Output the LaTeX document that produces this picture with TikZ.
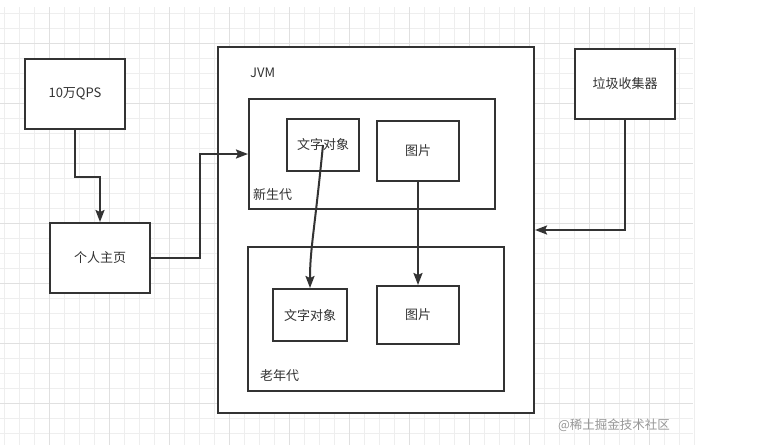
\documentclass[tikz,border=0pt]{standalone}
\usepackage{fontspec}
\setmainfont{Noto Sans CJK SC}
\usepackage{tikz}
\usetikzlibrary{arrows.meta,positioning,calc}
\definecolor{ink}{RGB}{51,51,51}
\definecolor{minorline}{RGB}{238,238,238}
\definecolor{majorline}{RGB}{224,224,224}
\definecolor{markgray}{RGB}{150,150,150}

\begin{document}
\begin{tikzpicture}[x=1pt, y=-1pt, font=\fontsize{13}{15}\selectfont,
 box/.style={draw=ink, line width=2pt, fill=white, text=ink, inner sep=0pt},
 zone/.style={draw=ink, line width=2pt, inner sep=0pt},
 lbl/.style={text=ink, anchor=west, inner sep=0pt},
 arr/.style={-{Stealth[length=12pt, width=9pt, inset=2pt]}, line width=2pt, color=ink}]
\useasboundingbox (0,0) rectangle (759,445);
% background grid
\foreach \gx in {4,19,...,694} \draw[minorline, line width=.6pt] (\gx,7) -- (\gx,445);
\foreach \gy in {13,28,...,445} \draw[minorline, line width=.6pt] (0,\gy) -- (693,\gy);
\foreach \gx in {49,109,...,694} \draw[majorline, line width=.8pt] (\gx,7) -- (\gx,445);
\foreach \gy in {43,103,...,445} \draw[majorline, line width=.8pt] (0,\gy) -- (693,\gy);
% outside boxes
\node[box, minimum width=100pt, minimum height=70pt] (qps) at (75,94) {10万QPS};
\node[box, minimum width=100pt, minimum height=70pt] (home) at (100,258) {个人主页};
\node[box, minimum width=100pt, minimum height=70pt] (gc) at (625,84) {垃圾收集器};
% jvm and its generations
\node[box, minimum width=316pt, minimum height=366pt] (jvm) at (376,230) {};
\node[lbl] (jvmlbl) at (250,73) {JVM};
\node[zone, minimum width=246pt, minimum height=110pt] (young) at (372,154) {};
\node[lbl] (younglbl) at (253,195) {新生代};
\node[box, minimum width=72pt, minimum height=52pt] (ytext) at (323,145) {文字对象};
\node[box, minimum width=82pt, minimum height=60pt] (ypic) at (418,151) {图片};
\node[zone, minimum width=256pt, minimum height=144pt] (old) at (376,319) {};
\node[lbl] (oldlbl) at (260,376) {老年代};
\node[box, minimum width=74pt, minimum height=52pt] (otext) at (310,315) {文字对象};
\node[box, minimum width=82pt, minimum height=58pt] (opic) at (418,315) {图片};
% connectors
\draw[arr] (qps.south) -- ++(0,47) -| (home.north);
\draw[arr] (home.east) -- ++(49,0) |- (young.west);
\draw[arr] (gc.south) |- (jvm.east);
\draw[arr] (ypic.south) -- (opic.north);
\draw[arr] (ytext.center) .. controls (314,235) and (310,250) .. (otext.north);
\node[text=markgray, font=\fontsize{12.5}{14}\selectfont] (mark) at (614,425) {@稀土掘金技术社区};
\end{tikzpicture}
\end{document}
